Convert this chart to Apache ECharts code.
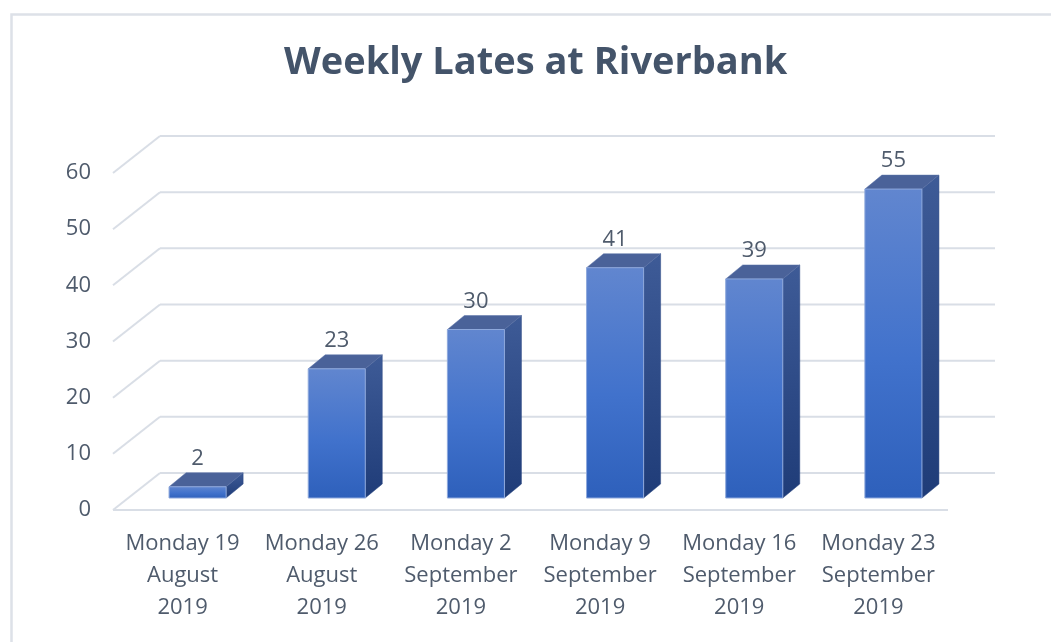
<!DOCTYPE html>
<html>
<head>
<meta charset="utf-8">
<script src="https://cdn.jsdelivr.net/npm/echarts@6/dist/echarts.min.js"></script>
<style>html,body{margin:0;padding:0;background:#fff}#c{width:1051px;height:642px}</style>
</head>
<body>
<div id="c"></div>
<script>
var categories = ['Monday 19\nAugust\n2019', 'Monday 26\nAugust\n2019', 'Monday 2\nSeptember\n2019', 'Monday 9\nSeptember\n2019', 'Monday 16\nSeptember\n2019', 'Monday 23\nSeptember\n2019'];
var lates = [2, 23, 30, 41, 39, 55];
var yTicks = [0, 10, 20, 30, 40, 50, 60];

var DEPTH_X = 47, DEPTH_Y = -37;     // wall depth
var BAR_SHIFT_X = 15, BAR_SHIFT_Y = -12; // bar front face position inside depth
var BAR_DX = 17, BAR_DY = -14;       // bar depth
var GRID_COLOR = '#d9dee6';
var TEXT_COLOR = '#4f5b6c';
var FONT = '"Open Sans", Lato, sans-serif';

var chart = echarts.init(document.getElementById('c'));

function wallItem(params, api) {
  var cs = params.coordSys;
  var v = api.value(1);
  var y = api.coord([0, v])[1];
  var x0 = cs.x, x1 = cs.x + cs.width;
  var children = [
    {type: 'line', shape: {x1: x0, y1: y, x2: x0 + DEPTH_X, y2: y + DEPTH_Y}, style: {stroke: GRID_COLOR, lineWidth: 2}},
    {type: 'line', shape: {x1: x0 + DEPTH_X, y1: y + DEPTH_Y, x2: x1 + DEPTH_X, y2: y + DEPTH_Y}, style: {stroke: GRID_COLOR, lineWidth: 2}}
  ];
  if (v === 0) {
    children.push({type: 'line', shape: {x1: x0, y1: y, x2: x1, y2: y}, style: {stroke: GRID_COLOR, lineWidth: 2}});
  }
  return {type: 'group', children: children};
}

function barItem(params, api) {
  var i = api.value(0), v = api.value(1);
  var base = api.coord([i, 0]);
  var top = api.coord([i, v]);
  var band = api.size([1, 0])[0];
  var w = band * 0.41;
  var xc = base[0] + BAR_SHIFT_X;
  var xl = xc - w / 2, xr = xc + w / 2;
  var yb = base[1] + BAR_SHIFT_Y, yt = top[1] + BAR_SHIFT_Y;
  var frontFill = new echarts.graphic.LinearGradient(0, 0, 0, 1, [
    {offset: 0, color: '#6186cf'}, {offset: 0.55, color: '#4172cc'}, {offset: 1, color: '#2e60bb'}]);
  var sideFill = new echarts.graphic.LinearGradient(0, 0, 0, 1, [
    {offset: 0, color: '#3e5b97'}, {offset: 1, color: '#1f3c78'}]);
  return {
    type: 'group',
    children: [
      {type: 'polygon', shape: {points: [[xr, yt], [xr + BAR_DX, yt + BAR_DY], [xr + BAR_DX, yb + BAR_DY], [xr, yb]]},
        style: {fill: sideFill, stroke: '#2a4680', lineWidth: 0.5}},
      {type: 'polygon', shape: {points: [[xl, yt], [xl + BAR_DX, yt + BAR_DY], [xr + BAR_DX, yt + BAR_DY], [xr, yt]]},
        style: {fill: '#4a6299', stroke: '#5a73a8', lineWidth: 0.5}},
      {type: 'rect', shape: {x: xl, y: yt, width: w, height: yb - yt},
        style: {fill: frontFill, stroke: '#8ea8dc', lineWidth: 1}},
      {type: 'text', x: xc, y: yt + BAR_DY - 14,
        style: {text: String(v), fill: TEXT_COLOR, font: '22px ' + FONT, align: 'center', verticalAlign: 'middle'}}
    ]
  };
}

chart.setOption({
  animation: false,
  backgroundColor: '#ffffff',
  title: {
    text: 'Weekly Lates at Riverbank',
    left: 279,
    top: 39,
    textStyle: {fontFamily: FONT, fontWeight: 'bold', fontSize: 38, color: '#44546a'}
  },
  graphic: [{
    type: 'rect', left: 9, top: 12, shape: {width: 1100, height: 700},
    style: {fill: 'none', stroke: '#dde1e8', lineWidth: 2.5}, silent: true
  }],
  grid: {left: 113, top: 173, width: 835, height: 337, containLabel: false},
  xAxis: {
    type: 'category',
    data: categories,
    boundaryGap: true,
    axisLine: {show: false},
    axisTick: {show: false},
    axisLabel: {interval: 0, margin: 18, fontFamily: FONT, fontSize: 22, lineHeight: 32, color: TEXT_COLOR, align: 'center'}
  },
  yAxis: {
    type: 'value',
    min: 0, max: 60, interval: 10,
    axisLine: {show: false},
    axisTick: {show: false},
    splitLine: {show: false},
    axisLabel: {margin: 22, fontFamily: FONT, fontSize: 22, color: TEXT_COLOR}
  },
  series: [
    {
      type: 'custom', name: 'walls', silent: true, z: 1,
      renderItem: wallItem,
      data: yTicks.map(function (t) { return [0, t]; })
    },
    {
      type: 'custom', name: 'Lates', z: 2,
      renderItem: barItem,
      data: lates.map(function (v, i) { return [i, v]; })
    }
  ]
});
</script>
</body>
</html>
